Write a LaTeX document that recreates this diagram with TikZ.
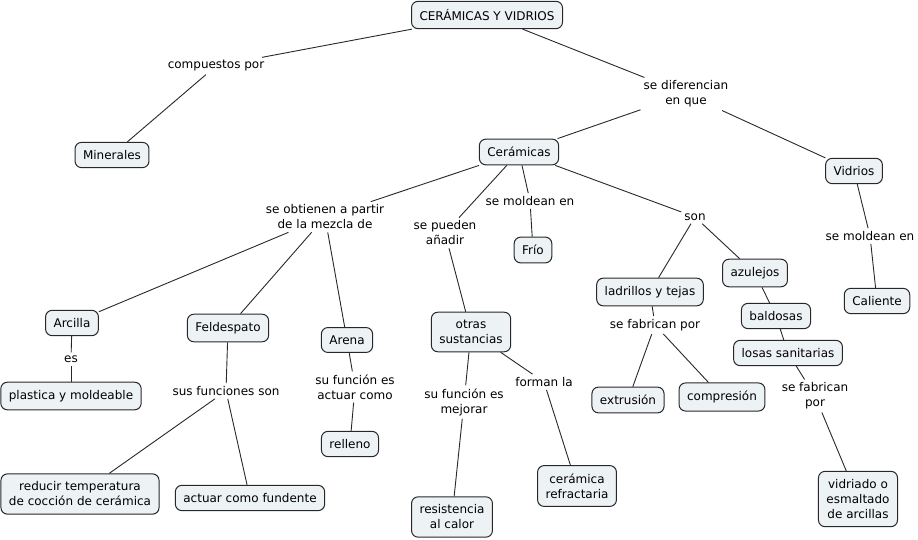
\documentclass[tikz,border=0pt]{standalone}
\usepackage{fontspec}
\setmainfont{DejaVu Sans}
\definecolor{cfill}{RGB}{237,242,245}
\definecolor{cline}{RGB}{40,40,40}
\tikzset{
  concept/.style={draw=cline, fill=cfill, rounded corners=6.5pt, line width=1pt,
    inner xsep=8pt, inner ysep=8pt, align=center, font=\fontsize{12}{15}\selectfont},
  lphrase/.style={inner xsep=3pt, inner ysep=3pt, align=center, font=\fontsize{12}{15}\selectfont},
  conn/.style={draw=cline, line width=0.9pt}
}
\begin{document}
\begin{tikzpicture}[x=1pt,y=-1pt]
\useasboundingbox (0,0) rectangle (918,540);
% concepts
\node[concept] (top) at (487,15) {CERÁMICAS Y VIDRIOS};
\node[concept] (min) at (112,155) {Minerales};
\node[concept] (cer) at (519,152) {Cerámicas};
\node[concept] (vid) at (854,171) {Vidrios};
\node[concept] (frio) at (533,250) {Frío};
\node[concept] (arc) at (72,323) {Arcilla};
\node[concept] (fel) at (228,328) {Feldespato};
\node[concept] (are) at (347,340) {Arena};
\node[concept] (otr) at (471,332) {otras\\sustancias};
\node[concept] (lad) at (650,292) {ladrillos y tejas};
\node[concept] (azu) at (755,273) {azulejos};
\node[concept] (cal) at (877,301) {Caliente};
\node[concept] (bal) at (776,316) {baldosas};
\node[concept] (los) at (788,353) {losas sanitarias};
\node[concept] (pla) at (71,396) {plastica y moldeable};
\node[concept] (rel) at (350,444) {relleno};
\node[concept] (ext) at (628,400) {extrusión};
\node[concept] (com) at (722,397) {compresión};
\node[concept] (red) at (80,494) {reducir temperatura\\de cocción de cerámica};
\node[concept] (fun) at (250,498) {actuar como fundente};
\node[concept] (res) at (452,517) {resistencia\\al calor};
\node[concept] (ref) at (577,486) {cerámica\\refractaria};
\node[concept] (vdr) at (858,499) {vidriado o\\esmaltado\\de arcillas};
% linking phrases
\node[lphrase] (l1) at (216,66) {compuestos por};
\node[lphrase] (l2) at (686,94) {se diferencian\\en que};
\node[lphrase] (l3) at (325,217) {se obtienen a partir\\de la mezcla de};
\node[lphrase] (l4) at (445,233) {se pueden\\añadir};
\node[lphrase] (l5) at (530,201) {se moldean en};
\node[lphrase] (l6) at (695,217) {son};
\node[lphrase] (l7) at (870,236) {se moldean en};
\node[lphrase] (l8) at (71,359) {es};
\node[lphrase] (l9) at (226,391) {sus funciones son};
\node[lphrase] (l10) at (355,387) {su función es\\actuar como};
\node[lphrase] (l11) at (464,402) {su función es\\mejorar};
\node[lphrase] (l12) at (544,382) {forman la};
\node[lphrase] (l13) at (655,325) {se fabrican por};
\node[lphrase] (l14) at (815,396) {se fabrican\\por};
% connectors
\draw[conn] (top) -- (l1);
\draw[conn] (l1) -- (min);
\draw[conn] (top) -- (l2);
\draw[conn] (l2) -- (cer);
\draw[conn] (l2) -- (vid);
\draw[conn] (cer) -- (l3);
\draw[conn] (l3) -- (arc);
\draw[conn] (l3) -- (fel);
\draw[conn] (l3) -- (are);
\draw[conn] (cer) -- (l4);
\draw[conn] (l4) -- (otr);
\draw[conn] (cer) -- (l5);
\draw[conn] (l5) -- (frio);
\draw[conn] (cer) -- (l6);
\draw[conn] (l6) -- (lad);
\draw[conn] (l6) -- (azu);
\draw[conn] (vid) -- (l7);
\draw[conn] (l7) -- (cal);
\draw[conn] (arc) -- (l8);
\draw[conn] (l8) -- (pla);
\draw[conn] (fel) -- (l9);
\draw[conn] (l9) -- (red);
\draw[conn] (l9) -- (fun);
\draw[conn] (are) -- (l10);
\draw[conn] (l10) -- (rel);
\draw[conn] (otr) -- (l11);
\draw[conn] (l11) -- (res);
\draw[conn] (otr) -- (l12);
\draw[conn] (l12) -- (ref);
\draw[conn] (lad) -- (l13);
\draw[conn] (l13) -- (ext);
\draw[conn] (l13) -- (com);
\draw[conn] (azu) -- (bal);
\draw[conn] (bal) -- (los);
\draw[conn] (los) -- (l14);
\draw[conn] (l14) -- (vdr);
\end{tikzpicture}
\end{document}
